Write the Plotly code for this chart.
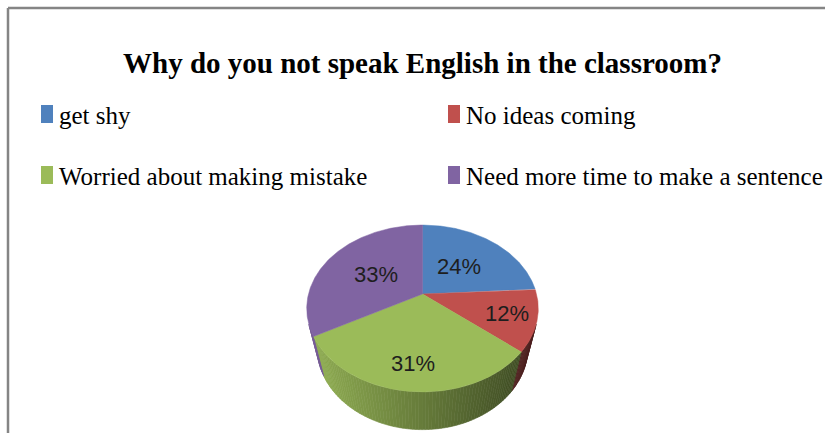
import numpy as np
import plotly.graph_objects as go

# Survey answers
categories = [
    "get shy",
    "No ideas coming",
    "Worried about making mistake",
    "Need more time to make a sentence",
]
values = [24, 12, 31, 33]
colors = ["#4F81BD", "#C0504D", "#9BBB59", "#8064A2"]
title_text = "Why do you not speak English in the classroom?"

W, H = 825, 433

# --- 3D pie camera (perspective projection of a disc seen from above) ---
CX, CY = 422.5, 294.0     # screen position of the pie centre
FOCAL = 463.0             # focal length in pixels
DIST = 4.06               # camera distance in pie radii
ELEV = np.radians(45.2)   # camera elevation
THICK = 0.55              # pie thickness in pie radii
SIN_E, COS_E = np.sin(ELEV), np.cos(ELEV)


def project(theta_deg, r=1.0, y3=0.0):
    """Angle measured clockwise from 12 o'clock -> screen pixels."""
    t = np.radians(theta_deg)
    X = r * np.sin(t)
    Z = r * np.cos(t)
    d = DIST - y3 * SIN_E + Z * COS_E
    sx = X / d
    sy = (y3 * COS_E + Z * SIN_E) / d
    return CX + FOCAL * sx, CY - FOCAL * sy


def shade(hex_color, f):
    h = hex_color.lstrip("#")
    rgb = [int(h[i:i + 2], 16) for i in (0, 2, 4)]
    return "rgb({},{},{})".format(*[int(max(0, min(255, v * f))) for v in rgb])


total = float(sum(values))
bounds = np.concatenate([[0.0], np.cumsum(values) / total * 360.0])

fig = go.Figure()

# visible part of the cylinder wall (silhouette where the wall is edge-on)
theta_lo = np.degrees(np.arccos(-1.0 / (DIST * COS_E)))
theta_hi = 360.0 - theta_lo
x_right, _ = project(theta_lo, 1.0, -THICK)
x_left, _ = project(theta_hi, 1.0, -THICK)

for i in range(len(values)):
    a0, a1 = max(bounds[i], theta_lo), min(bounds[i + 1], theta_hi)
    if a1 <= a0:
        continue
    n = max(1, int(np.ceil((a1 - a0) / 1.5)))
    edges = np.linspace(a0, a1, n + 1)
    for k in range(n):
        arc = np.linspace(edges[k], edges[k + 1], 4)
        tx, ty = project(arc, 1.0, 0.0)
        bx, by = project(arc[::-1], 1.0, -THICK)
        xm, _ = project(0.5 * (edges[k] + edges[k + 1]), 1.0, -THICK * 0.5)
        f = 0.40 + 0.52 * (x_right - xm) / (x_right - x_left)
        col = shade(colors[i], f)
        fig.add_trace(go.Scatter(
            x=np.concatenate([tx, bx, tx[:1]]),
            y=np.concatenate([ty, by, ty[:1]]),
            mode="lines", fill="toself", fillcolor=col,
            line=dict(color=col, width=0.6),
            hoverinfo="skip", showlegend=False,
        ))

# top faces of the slices
for i in range(len(values)):
    arc = np.linspace(bounds[i], bounds[i + 1], max(3, int((bounds[i + 1] - bounds[i]) * 2)))
    ax_, ay_ = project(arc)
    fig.add_trace(go.Scatter(
        x=np.concatenate([[CX], ax_, [CX]]),
        y=np.concatenate([[CY], ay_, [CY]]),
        mode="lines", fill="toself", fillcolor=colors[i],
        line=dict(color=colors[i], width=0.5),
        name=categories[i], hoverinfo="name", showlegend=False,
    ))

# percentage labels on the slices
for i, v in enumerate(values):
    mid = 0.5 * (bounds[i] + bounds[i + 1])
    r_lab = 0.5 if np.cos(np.radians(mid)) > 0 else 0.75
    lx, ly = project(mid, r_lab)
    fig.add_annotation(
        x=lx, y=ly, text=f"{round(v / total * 100)}%", showarrow=False,
        font=dict(family="Liberation Sans Narrow, Liberation Sans, Arial", size=22, color="#1E1E1E"),
        xanchor="center", yanchor="middle",
    )

# title
fig.add_annotation(
    x=422, y=63, xref="x", yref="y", text=title_text, showarrow=False,
    font=dict(family="Liberation Serif, Times New Roman, serif", size=29,
              color="#000000", weight="bold"),
    xanchor="center", yanchor="middle",
)

# legend: two columns, two rows
leg_x = [41, 448]
leg_y = [114, 175]
for i, name in enumerate(categories):
    col_x = leg_x[i % 2]
    row_y = leg_y[i // 2]
    fig.add_shape(type="rect", xref="x", yref="y",
                  x0=col_x, x1=col_x + 12, y0=row_y - 9, y1=row_y + 9,
                  fillcolor=colors[i], line=dict(width=0))
    fig.add_annotation(
        x=col_x + 16, y=row_y + 1, text=name, showarrow=False,
        font=dict(family="Liberation Serif, Times New Roman, serif", size=25, color="#000000"),
        xanchor="left", yanchor="middle",
    )

# chart frame (top and left edges)
fig.add_shape(type="line", xref="x", yref="y", x0=8, x1=W, y0=8, y1=8,
              line=dict(color="#858585", width=2.5))
fig.add_shape(type="line", xref="x", yref="y", x0=8, x1=8, y0=8, y1=H,
              line=dict(color="#858585", width=2.5))

fig.update_xaxes(range=[0, W], visible=False, fixedrange=True)
fig.update_yaxes(range=[H, 0], visible=False, fixedrange=True)
fig.update_layout(
    width=W, height=H,
    margin=dict(l=0, r=0, t=0, b=0, pad=0),
    paper_bgcolor="white", plot_bgcolor="white",
    showlegend=False,
)

fig.write_html("out.html")
